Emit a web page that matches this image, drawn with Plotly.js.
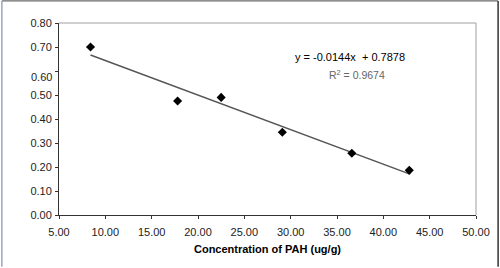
<!DOCTYPE html>
<html><head><meta charset="utf-8">
<script src="https://cdn.plot.ly/plotly-3.0.1.min.js"></script>
<style>html,body{margin:0;padding:0;background:#fff}#c{width:500px;height:268px}</style>
</head><body><div id="c"></div>
<script>
// Data
const concentration = [8.4, 17.8, 22.5, 29.1, 36.6, 42.8];
const response = [0.70, 0.475, 0.49, 0.345, 0.257, 0.186];
const trendSlope = -0.0144;
const trendIntercept = 0.7878;
const equationText = "y = -0.0144x &nbsp;+ 0.7878";
const r2Text = "R<sup>2</sup> = 0.9674";
const yTickVals = [0, 0.1, 0.2, 0.3, 0.4, 0.5, 0.6, 0.7, 0.8];
const yTickText = ["0.00","0.10","0.20","0.30","0.40","0.50","","0.70","0.80"];
const xTickVals = [5, 10, 15, 20, 25, 30, 35, 40, 45, 50];

const xMin = Math.min(...concentration), xMax = Math.max(...concentration);
const trendX = [xMin, xMax];
const trendY = trendX.map(x => trendSlope * x + trendIntercept);

const font = {family: "Liberation Sans, Arial, sans-serif", size: 11, color: "#222"};

const data = [
  {x: trendX, y: trendY, mode: "lines", line: {color: "#555", width: 1.5}, hoverinfo: "skip"},
  {x: concentration, y: response, mode: "markers",
   marker: {symbol: "diamond", size: 7, color: "#000"}}
];

const layout = {
  width: 500, height: 268,
  margin: {l: 59, r: 24, t: 23, b: 53},
  paper_bgcolor: "#fff", plot_bgcolor: "#fff",
  showlegend: false,
  font: font,
  xaxis: {
    range: [5, 50], tickvals: xTickVals, tickformat: ".2f",
    showgrid: false, zeroline: false, showline: true, linecolor: "#333", linewidth: 1,
    ticks: "outside", ticklen: 3, tickcolor: "#333", ticklabelstandoff: 4,
    tickfont: font,
    title: {text: "<b>Concentration of PAH (ug/g)</b>", font: {family: font.family, size: 11, color: "#000"}, standoff: 8}
  },
  yaxis: {
    range: [0, 0.8], tickvals: yTickVals, ticktext: yTickText,
    showgrid: false, zeroline: false, showline: true, linecolor: "#333", linewidth: 1,
    ticks: "outside", ticklen: 3, tickcolor: "#333", tickfont: font, ticklabelstandoff: 1
  },
  shapes: [
    // plot area top/right border
    {type: "line", xref: "paper", yref: "paper", x0: 0, x1: 1, y0: 1, y1: 1, line: {color: "#a0a0a0", width: 1}},
    {type: "line", xref: "paper", yref: "paper", x0: 1, x1: 1, y0: 0, y1: 1, line: {color: "#a0a0a0", width: 1}},
    // outer chart frame
    {type: "line", xref: "paper", yref: "paper", x0: -0.137, x1: 1.053, y0: 1.115, y1: 1.115, line: {color: "#444", width: 1}},
    {type: "line", xref: "paper", yref: "paper", x0: 1.053, x1: 1.053, y0: -0.27, y1: 1.115, line: {color: "#333", width: 1.5}},
    {type: "line", xref: "paper", yref: "paper", x0: -0.137, x1: -0.137, y0: -0.27, y1: 1.115, line: {color: "#9aa8c0", width: 1.5}}
  ],
  annotations: [
    {xref: "paper", yref: "paper", x: -0.012, y: 0.72, xanchor: "right", yanchor: "middle",
     text: "0.60", showarrow: false, font: font},
    {xref: "paper", yref: "paper", x: 0.698, y: 0.823, xanchor: "center", yanchor: "middle",
     text: equationText, showarrow: false,
     font: {family: font.family, size: 11, color: "#000"}},
    {xref: "paper", yref: "paper", x: 0.715, y: 0.73, xanchor: "center", yanchor: "middle",
     text: r2Text, showarrow: false, font: {family: font.family, size: 10.5, color: "#666"}}
  ]
};

Plotly.newPlot("c", data, layout, {staticPlot: true});
</script></body></html>
